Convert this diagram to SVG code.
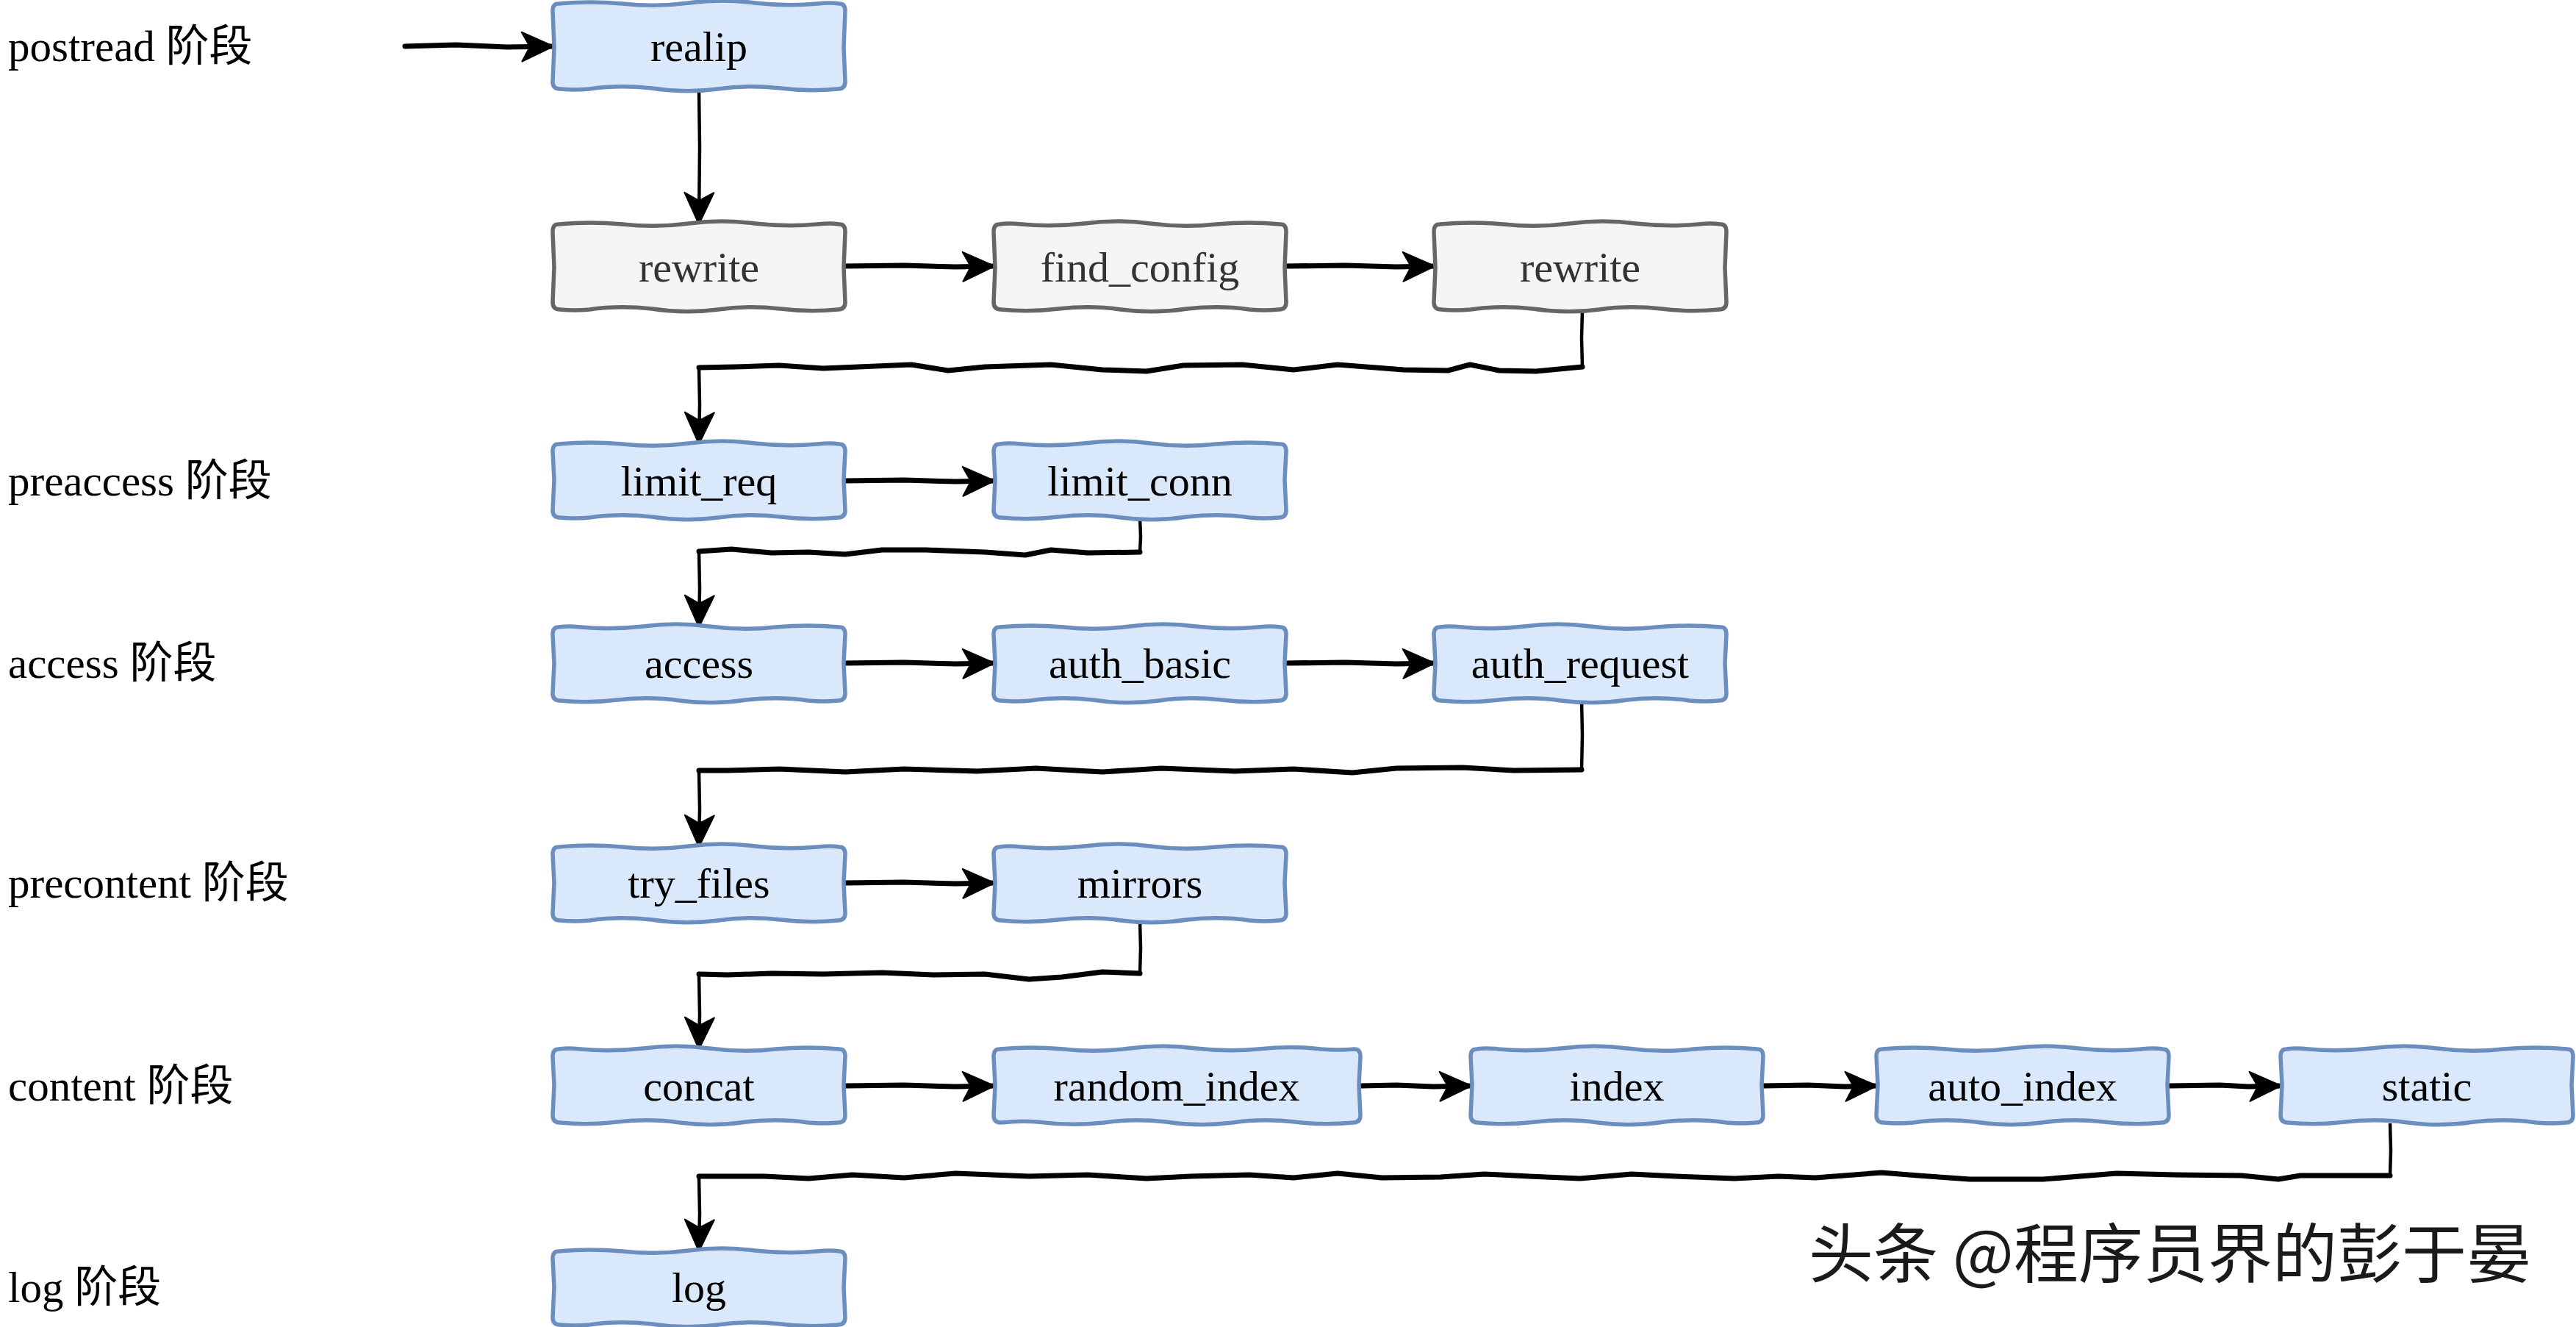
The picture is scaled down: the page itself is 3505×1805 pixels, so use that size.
<svg xmlns="http://www.w3.org/2000/svg" xmlns:xlink="http://www.w3.org/1999/xlink" width="3505" height="1805" viewBox="0 0 3505 1805">
<style>
.blue{fill:#dae8fc;stroke:#6c8ebf;stroke-width:5.5;stroke-linejoin:round}
.gray{fill:#f5f5f5;stroke:#666666;stroke-width:5.5;stroke-linejoin:round}
.t{font-family:"Liberation Serif","Times New Roman",serif;font-size:58px;fill:#000;text-anchor:middle}
.tg{fill:#333333}
.lbl{font-family:"Liberation Serif","Noto Sans CJK SC",serif;font-size:59px;fill:#000}
.h{fill:none;stroke:#000;stroke-width:7;stroke-linejoin:round;stroke-linecap:round}
.v{fill:none;stroke:#000;stroke-width:4.5;stroke-linejoin:round}
.wm{font-family:"Noto Sans CJK SC","Noto Sans",sans-serif;font-size:88px;fill:#1a1a1a}
</style>
<defs>
<marker id="arr" markerUnits="userSpaceOnUse" markerWidth="48" markerHeight="44" refX="42" refY="20" orient="auto" overflow="visible">
<path d="M0,0 L43,20 L0,40 L11,20 Z" fill="#000" stroke="#000" stroke-width="2" stroke-linejoin="round"/>
</marker>
<path id="bA" d="M8,1 Q50,-3 95,1 Q140,6 185,0 Q230,-6 275,0 Q320,5 360,1 Q378,-1 390,1 Q398,1 398,11 L396,60 L398,107 Q398,117 388,117 Q350,121 310,116 Q265,111 225,117 Q180,123 135,116 Q90,111 50,117 Q30,119 10,117 Q0,117 0,107 L2,60 L0,11 Q0,1 8,1 Z"/>
<path id="bB" d="M8,1 Q50,-3 95,1 Q140,6 185,0 Q230,-6 275,0 Q320,5 360,1 Q378,-1 390,1 Q398,1 398,11 L396,50 L398,91 Q398,101 388,101 Q350,105 310,100 Q265,95 225,101 Q180,107 135,100 Q90,95 50,101 Q30,103 10,101 Q0,101 0,91 L2,50 L0,11 Q0,1 8,1 Z"/>
<path id="bC" d="M8,1 Q50,-3 95,1 Q140,6 185,0 Q230,-6 275,0 Q320,5 360,1 Q405,-4 445,1 Q470,3 491,1 Q499,1 499,11 L497,50 L499,91 Q499,101 489,101 Q450,105 410,100 Q365,95 325,101 Q280,107 235,100 Q190,95 150,101 Q105,106 60,100 Q35,98 10,101 Q0,101 0,91 L2,50 L0,11 Q0,1 8,1 Z"/>
</defs>
<rect width="3505" height="1805" fill="#ffffff"/>

<g id="labels">
<text class="lbl" x="11" y="83">postread 阶段</text>
<text class="lbl" x="11" y="674">preaccess 阶段</text>
<text class="lbl" x="11" y="922">access 阶段</text>
<text class="lbl" x="11" y="1221">precontent 阶段</text>
<text class="lbl" x="11" y="1497">content 阶段</text>
<text class="lbl" x="11" y="1771">log 阶段</text>
</g>

<g id="connectors">
<path class="h" d="M551,63 L620,61 L690,64 L752,63" marker-end="url(#arr)"/>
<path class="v" d="M951,121 L952,200 L951,304" marker-end="url(#arr)"/>
<path class="h" d="M1150,362 L1230,361 L1300,363 L1352,362" marker-end="url(#arr)"/>
<path class="h" d="M1750,362 L1830,361 L1900,363 L1951,362" marker-end="url(#arr)"/>
<path class="v" d="M2153,421 L2152,460 L2153,499"/>
<path class="h" d="M2153,499 L2090,505 L2040,504 L2000,496 L1970,504 L1910,503 L1820,496 L1760,503 L1690,496 L1610,497 L1560,505 L1500,503 L1430,496 L1340,499 L1290,504 L1240,496 L1120,501 L1060,497 L1000,499 L951,500"/>
<path class="v" d="M951,500 L952,550 L951,603" marker-end="url(#arr)"/>
<path class="h" d="M1150,654 L1230,653 L1300,655 L1352,654" marker-end="url(#arr)"/>
<path class="v" d="M1551,704 L1552,730 L1551,751"/>
<path class="h" d="M1551,751 L1480,752 L1430,748 L1395,755 L1340,751 L1260,748 L1200,748 L1150,754 L1100,751 L1050,752 L995,747 L951,750"/>
<path class="v" d="M951,750 L952,800 L951,852" marker-end="url(#arr)"/>
<path class="h" d="M1150,902 L1230,901 L1300,903 L1352,902" marker-end="url(#arr)"/>
<path class="h" d="M1750,902 L1830,901 L1900,903 L1951,902" marker-end="url(#arr)"/>
<path class="v" d="M2152,953 L2153,1000 L2152,1047"/>
<path class="h" d="M2152,1047 L2060,1048 L1990,1044 L1900,1045 L1840,1051 L1760,1046 L1680,1049 L1580,1045 L1500,1050 L1410,1045 L1330,1049 L1230,1046 L1150,1050 L1060,1046 L990,1048 L951,1048"/>
<path class="v" d="M951,1048 L952,1100 L951,1151" marker-end="url(#arr)"/>
<path class="h" d="M1150,1201 L1230,1200 L1300,1202 L1352,1201" marker-end="url(#arr)"/>
<path class="v" d="M1551,1252 L1552,1290 L1551,1324"/>
<path class="h" d="M1551,1324 L1500,1322 L1445,1329 L1400,1332 L1340,1325 L1270,1326 L1200,1323 L1120,1325 L1050,1324 L990,1326 L951,1325"/>
<path class="v" d="M951,1325 L952,1380 L951,1426" marker-end="url(#arr)"/>
<path class="h" d="M1150,1477 L1230,1476 L1300,1478 L1352,1477" marker-end="url(#arr)"/>
<path class="h" d="M1851,1477 L1900,1476 L1950,1478 L2001,1477" marker-end="url(#arr)"/>
<path class="h" d="M2399,1477 L2460,1476 L2510,1478 L2553,1477" marker-end="url(#arr)"/>
<path class="h" d="M2951,1477 L3020,1476 L3060,1478 L3103,1477" marker-end="url(#arr)"/>
<path class="v" d="M3252,1528 L3253,1565 L3252,1599"/>
<path class="h" d="M3252,1599 L3130,1599 L3100,1604 L3050,1599 L2960,1598 L2880,1596 L2780,1604 L2680,1604 L2610,1599 L2560,1595 L2470,1602 L2420,1600 L2360,1603 L2280,1600 L2220,1597 L2150,1603 L2080,1600 L2020,1597 L1960,1601 L1880,1602 L1820,1596 L1760,1602 L1700,1598 L1620,1600 L1560,1603 L1480,1598 L1400,1600 L1300,1596 L1230,1602 L1160,1598 L1100,1603 L1040,1600 L951,1600"/>
<path class="v" d="M951,1600 L952,1650 L951,1701" marker-end="url(#arr)"/>
</g>

<g id="node-realip"><use href="#bA" x="752" y="4" class="blue"/><text class="t" x="951" y="83">realip</text></g>
<g id="node-rewrite1"><use href="#bA" x="752" y="304" class="gray"/><text class="t tg" x="951" y="383">rewrite</text></g>
<g id="node-find_config"><use href="#bA" x="1352" y="304" class="gray" transform="translate(3102,0) scale(-1,1)"/><text class="t tg" x="1551" y="383">find_config</text></g>
<g id="node-rewrite2"><use href="#bA" x="1951" y="304" class="gray"/><text class="t tg" x="2150" y="383">rewrite</text></g>
<g id="node-limit_req"><use href="#bB" x="752" y="603" class="blue"/><text class="t" x="951" y="674">limit_req</text></g>
<g id="node-limit_conn"><use href="#bB" x="1352" y="603" class="blue" transform="translate(3102,0) scale(-1,1)"/><text class="t" x="1551" y="674">limit_conn</text></g>
<g id="node-access"><use href="#bB" x="752" y="852" class="blue" transform="translate(1902,0) scale(-1,1)"/><text class="t" x="951" y="922">access</text></g>
<g id="node-auth_basic"><use href="#bB" x="1352" y="852" class="blue"/><text class="t" x="1551" y="922">auth_basic</text></g>
<g id="node-auth_request"><use href="#bB" x="1951" y="852" class="blue" transform="translate(4300,0) scale(-1,1)"/><text class="t" x="2150" y="922">auth_request</text></g>
<g id="node-try_files"><use href="#bB" x="752" y="1151" class="blue"/><text class="t" x="951" y="1221">try_files</text></g>
<g id="node-mirrors"><use href="#bB" x="1352" y="1151" class="blue" transform="translate(3102,0) scale(-1,1)"/><text class="t" x="1551" y="1221">mirrors</text></g>
<g id="node-concat"><use href="#bB" x="752" y="1426" class="blue" transform="translate(1902,0) scale(-1,1)"/><text class="t" x="951" y="1497">concat</text></g>
<g id="node-random_index"><use href="#bC" x="1352" y="1426" class="blue"/><text class="t" x="1601" y="1497">random_index</text></g>
<g id="node-index"><use href="#bB" x="2001" y="1426" class="blue" transform="translate(4400,0) scale(-1,1)"/><text class="t" x="2200" y="1497">index</text></g>
<g id="node-auto_index"><use href="#bB" x="2553" y="1426" class="blue"/><text class="t" x="2752" y="1497">auto_index</text></g>
<g id="node-static"><use href="#bB" x="3103" y="1426" class="blue" transform="translate(6604,0) scale(-1,1)"/><text class="t" x="3302" y="1497">static</text></g>
<g id="node-log"><use href="#bB" x="752" y="1701" class="blue"/><text class="t" x="951" y="1771">log</text></g>

<g id="watermark"><text class="wm" x="2461" y="1737">头条 @程序员界的彭于晏</text></g>
</svg>
